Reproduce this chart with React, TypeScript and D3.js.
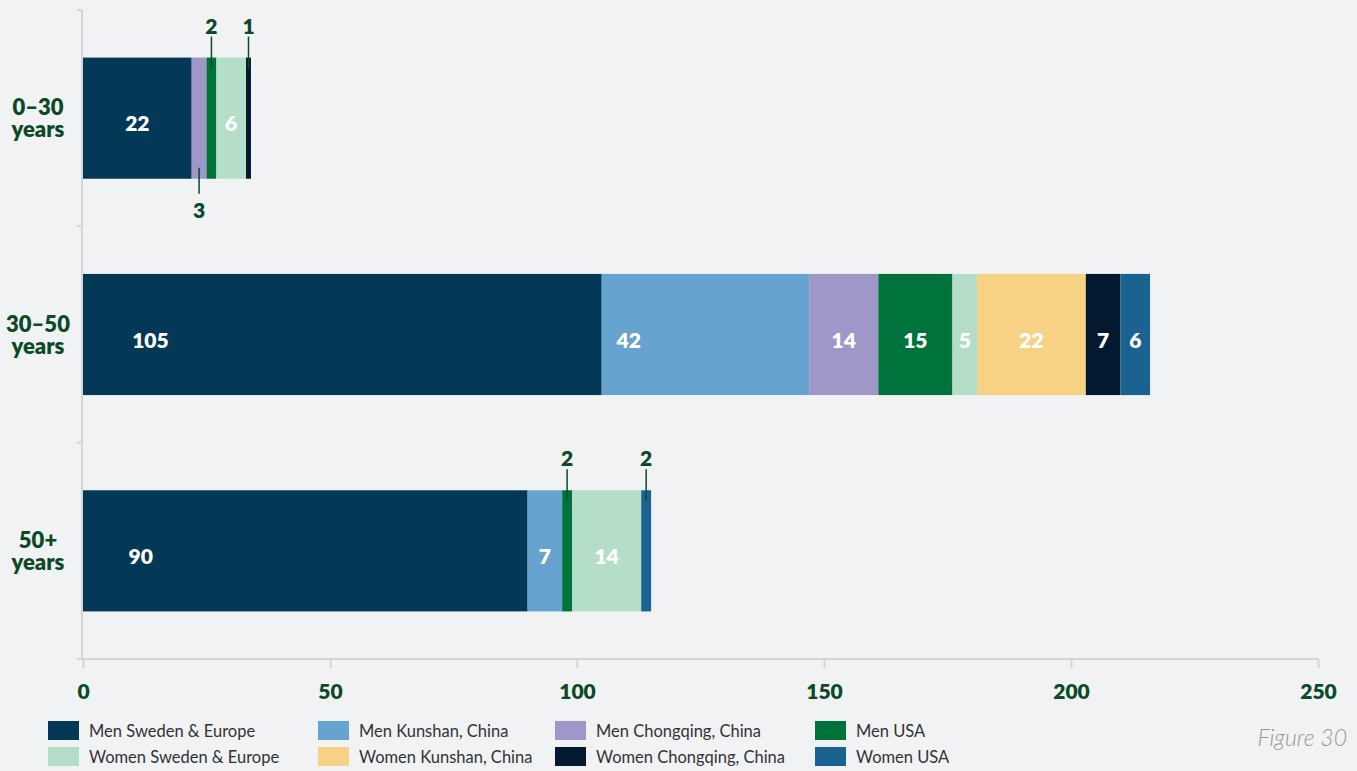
import React, { useEffect, useRef } from "react"
import * as d3 from "d3"

// age groups, top to bottom
const categories = ["0–30 years", "30–50 years", "50+ years"]

// stack order, left to right
const seriesNames = [
  "Men Sweden & Europe",
  "Men Kunshan, China",
  "Men Chongqing, China",
  "Men USA",
  "Women Sweden & Europe",
  "Women Kunshan, China",
  "Women Chongqing, China",
  "Women USA",
]
const seriesColors = ["#033856", "#66a3cf", "#a097c9", "#00733d", "#b5dec8", "#f7d284", "#03192f", "#1c6291"]

// values per series, one entry per age group
const menSweden = [22, 105, 90]
const menKunshan = [0, 42, 7]
const menChongqing = [3, 14, 0]
const menUSA = [2, 15, 2]
const womenSweden = [6, 5, 14]
const womenKunshan = [0, 22, 0]
const womenChongqing = [1, 7, 0]
const womenUSA = [0, 6, 2]

const xTicks = [0, 50, 100, 150, 200, 250]

// small segments get their label outside the bar: above or below
const outsideBelow = ["0–30 years|Men Chongqing, China"]

const green = "#0c4a27"
const axisGrey = "#d4d5d8"
const font = "Lato, 'Open Sans', sans-serif"

function App() {
  const ref = useRef<SVGSVGElement>(null)

  useEffect(() => {
    const width = 1357, height = 771
    const margin = { top: 10, right: 39, bottom: 112, left: 83 }
    const svg = d3.select(ref.current)
    svg.selectAll("*").remove()

    svg.append("rect").attr("width", width).attr("height", height).attr("fill", "#f1f2f4")

    const allSeries = [menSweden, menKunshan, menChongqing, menUSA, womenSweden, womenKunshan, womenChongqing, womenUSA]
    const rows = categories.map((c, i) => {
      const r: any = { cat: c }
      seriesNames.forEach((s, j) => { r[s] = allSeries[j][i] })
      return r
    })
    const stacked = d3.stack().keys(seriesNames)(rows)

    const x = d3.scaleLinear().domain([0, 250]).range([margin.left, width - margin.right])
    const y = d3.scaleBand().domain(categories).range([margin.top, height - margin.bottom]).paddingInner(0.44).paddingOuter(0.22)
    const color = d3.scaleOrdinal<string>().domain(seriesNames).range(seriesColors)
    const axisY = height - margin.bottom

    // y axis: line with ticks at band edges
    const edges = categories.map(c => y(c)! - y.step() * 0.22).concat([axisY])
    svg.append("line").attr("x1", margin.left - 1).attr("x2", margin.left - 1)
      .attr("y1", margin.top).attr("y2", axisY).attr("stroke", axisGrey).attr("stroke-width", 2)
    svg.selectAll(".ytick").data(edges).enter().append("line")
      .attr("x1", margin.left - 6).attr("x2", margin.left - 1)
      .attr("y1", d => d).attr("y2", d => d).attr("stroke", axisGrey).attr("stroke-width", 2)

    // x axis
    const xAxis = svg.append("g").attr("transform", "translate(0," + axisY + ")")
      .call(d3.axisBottom(x).tickValues(xTicks).tickSize(9).tickSizeOuter(0).tickPadding(16))
    xAxis.select(".domain").attr("stroke", axisGrey).attr("stroke-width", 2).attr("d", `M${margin.left - 6},0H${width - margin.right}`)
    xAxis.selectAll(".tick line").attr("stroke", axisGrey).attr("stroke-width", 2)
    xAxis.selectAll(".tick text").attr("fill", green).attr("font-size", 21).attr("font-weight", 800).attr("font-family", font)

    // category labels
    const catLabels = svg.selectAll(".cat").data(categories).enter().append("text")
      .attr("x", 38).attr("y", d => y(d)! + y.bandwidth() / 2)
      .attr("text-anchor", "middle").attr("fill", green).attr("font-size", 22).attr("font-weight", 800).attr("font-family", font)
    catLabels.append("tspan").attr("x", 38).attr("dy", -3).text(d => d.split(" ")[0])
    catLabels.append("tspan").attr("x", 38).attr("dy", 22).text(d => d.split(" ")[1])

    // bars
    const layers = svg.selectAll(".layer").data(stacked).enter().append("g").attr("fill", d => color(d.key))
    layers.selectAll("rect").data(d => d).enter().append("rect")
      .attr("x", d => x(d[0])).attr("width", d => x(d[1]) - x(d[0]))
      .attr("y", d => y((d.data as any).cat)!).attr("height", y.bandwidth())

    // labels
    const segs: any[] = []
    stacked.forEach(layer => layer.forEach(d => {
      const v = d[1] - d[0]
      if (v > 0) segs.push({ key: layer.key, cat: (d.data as any).cat, v, x0: x(d[0]), x1: x(d[1]) })
    }))
    const inside = segs.filter(s => s.v > 3)
    const outside = segs.filter(s => s.v <= 3)

    svg.selectAll(".val").data(inside).enter().append("text")
      .attr("x", s => {
        const w = s.x1 - s.x0
        return w > 150 ? s.x0 + w * 0.13 : (s.x0 + s.x1) / 2
      })
      .attr("y", s => y(s.cat)! + y.bandwidth() / 2 + 13)
      .attr("text-anchor", "middle").attr("fill", "#fff").attr("font-size", 21).attr("font-weight", 800).attr("font-family", font)
      .text(s => s.v)

    outside.forEach(s => {
      const cx = (s.x0 + s.x1) / 2
      const below = outsideBelow.includes(s.cat + "|" + s.key)
      const top = y(s.cat)!, bot = top + y.bandwidth()
      svg.append("line").attr("x1", cx).attr("x2", cx)
        .attr("y1", below ? bot - 11 : top + 11).attr("y2", below ? bot + 15 : top - 21)
        .attr("stroke", green).attr("stroke-width", 1.5)
      svg.append("text").attr("x", cx).attr("y", below ? bot + 39 : top - 24)
        .attr("text-anchor", "middle").attr("fill", green).attr("font-size", 21).attr("font-weight", 800).attr("font-family", font)
        .text(s.v)
    })

    // legend, 4 columns x 2 rows
    const colX = [48, 318, 555, 815]
    const leg = svg.selectAll(".leg").data(seriesNames).enter().append("g")
      .attr("transform", (d, i) => `translate(${colX[i % 4]},${721 + Math.floor(i / 4) * 26})`)
    leg.append("rect").attr("width", 31).attr("height", 19).attr("fill", d => color(d))
    leg.append("text").attr("x", 41).attr("y", 16).attr("fill", "#333").attr("font-size", 16.5)
      .attr("font-family", font).text(d => d)

    svg.append("text").attr("x", 1347).attr("y", 746).attr("text-anchor", "end")
      .attr("fill", "#999").attr("font-size", 23).attr("font-style", "italic").attr("font-weight", 300)
      .attr("font-family", font).text("Figure 30")
  }, [])

  return (
    <div style={{ position: "absolute", left: 0, top: 0 }}>
      <svg ref={ref} width={1357} height={771} style={{ display: "block" }} />
    </div>
  )
}

export default App
